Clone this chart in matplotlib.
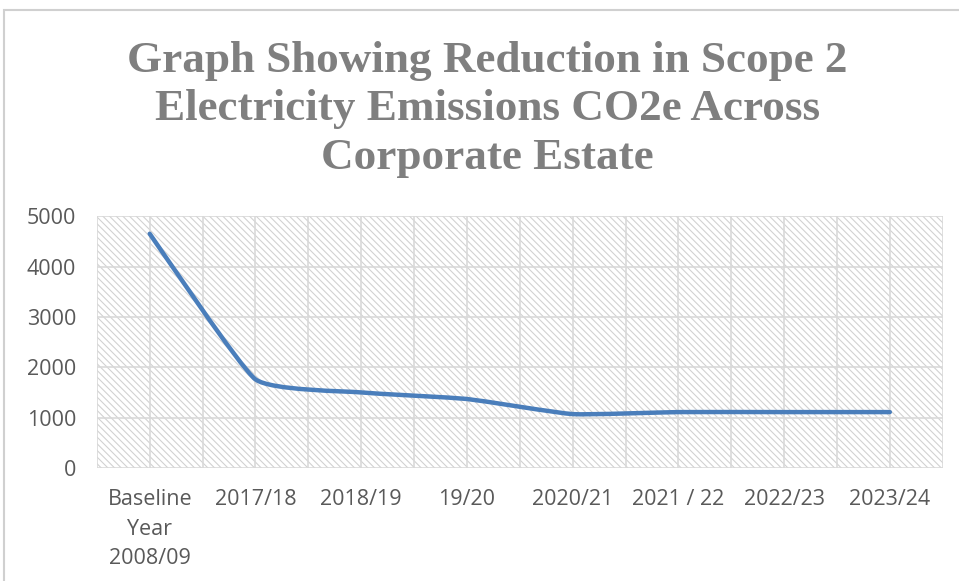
import matplotlib.pyplot as plt
from matplotlib.path import Path
from matplotlib.patches import PathPatch, Rectangle
import numpy as np

# data
years = ["Baseline\nYear\n2008/09", "2017/18", "2018/19", "19/20",
         "2020/21", "2021 / 22", "2022/23", "2023/24"]
emissions = [4650, 1760, 1500, 1370, 1070, 1110, 1110, 1110]
y_ticks = [0, 1000, 2000, 3000, 4000, 5000]

grey = "#595959"
grid_grey = "#d9d9d9"
line_blue = "#4a7ebb"

plt.rcParams['hatch.linewidth'] = 0.8

fig = plt.figure(figsize=(9.59, 5.81), dpi=100)
ax = fig.add_axes([0.101, 0.1945, 0.882, 0.4335])

# outer chart border
fig.patches.append(Rectangle((0.004, -0.1), 1.2, 1.083, transform=fig.transFigure,
                             fill=False, edgecolor="#d0d0d0", linewidth=1.5))

x = np.arange(len(years))
ax.set_xlim(-0.5, len(years) - 0.5)
ax.set_ylim(0, 5000)

# hatched plot area
ax.add_patch(Rectangle((0, 0), 1, 1, transform=ax.transAxes, facecolor="white",
                       hatch="\\\\\\\\\\", edgecolor="#d2d2d2", linewidth=0, zorder=0))

# gridlines at half-category steps
for gx in np.arange(-0.5, len(years), 0.5):
    ax.axvline(gx, color=grid_grey, linewidth=1.2, zorder=1)
for gy in y_ticks:
    ax.axhline(gy, color=grid_grey, linewidth=1.2, zorder=1)

# lightly smoothed line, as Excel draws it
pts = np.column_stack([x, emissions]).astype(float)
verts = [pts[0]]
codes = [Path.MOVETO]
k = 1 / 14
for i in range(len(pts) - 1):
    p0 = pts[i - 1] if i > 0 else pts[i]
    p1 = pts[i]
    p2 = pts[i + 1]
    p3 = pts[i + 2] if i + 2 < len(pts) else pts[i + 1]
    c1 = p1 + (p2 - p0) * k
    c2 = p2 - (p3 - p1) * k
    verts += [c1, c2, p2]
    codes += [Path.CURVE4] * 3
ax.add_patch(PathPatch(Path(verts, codes), facecolor="none", edgecolor=line_blue,
                       linewidth=3.2, capstyle="round", joinstyle="round", zorder=3))

for s in ax.spines.values():
    s.set_visible(False)
ax.set_xticks(x)
ax.set_xticklabels(years, fontsize=15.5, color=grey, family="Open Sans", linespacing=1.55)
ax.set_yticks(y_ticks)
ax.set_yticklabels([str(v) for v in y_ticks], fontsize=15.5, color=grey, family="Open Sans")
ax.tick_params(length=0)
ax.tick_params(axis="x", pad=15)
ax.tick_params(axis="y", pad=15)
for lab in ax.get_xticklabels():
    lab.set_verticalalignment("top")

fig.text(0.508, 0.812, "Graph Showing Reduction in Scope 2\nElectricity Emissions CO2e Across\nCorporate Estate",
         ha="center", va="center", fontsize=32.5, fontweight="bold", color="#7f7f7f",
         family="Liberation Serif", linespacing=1.27)

fig.savefig("out.png", dpi=100)
